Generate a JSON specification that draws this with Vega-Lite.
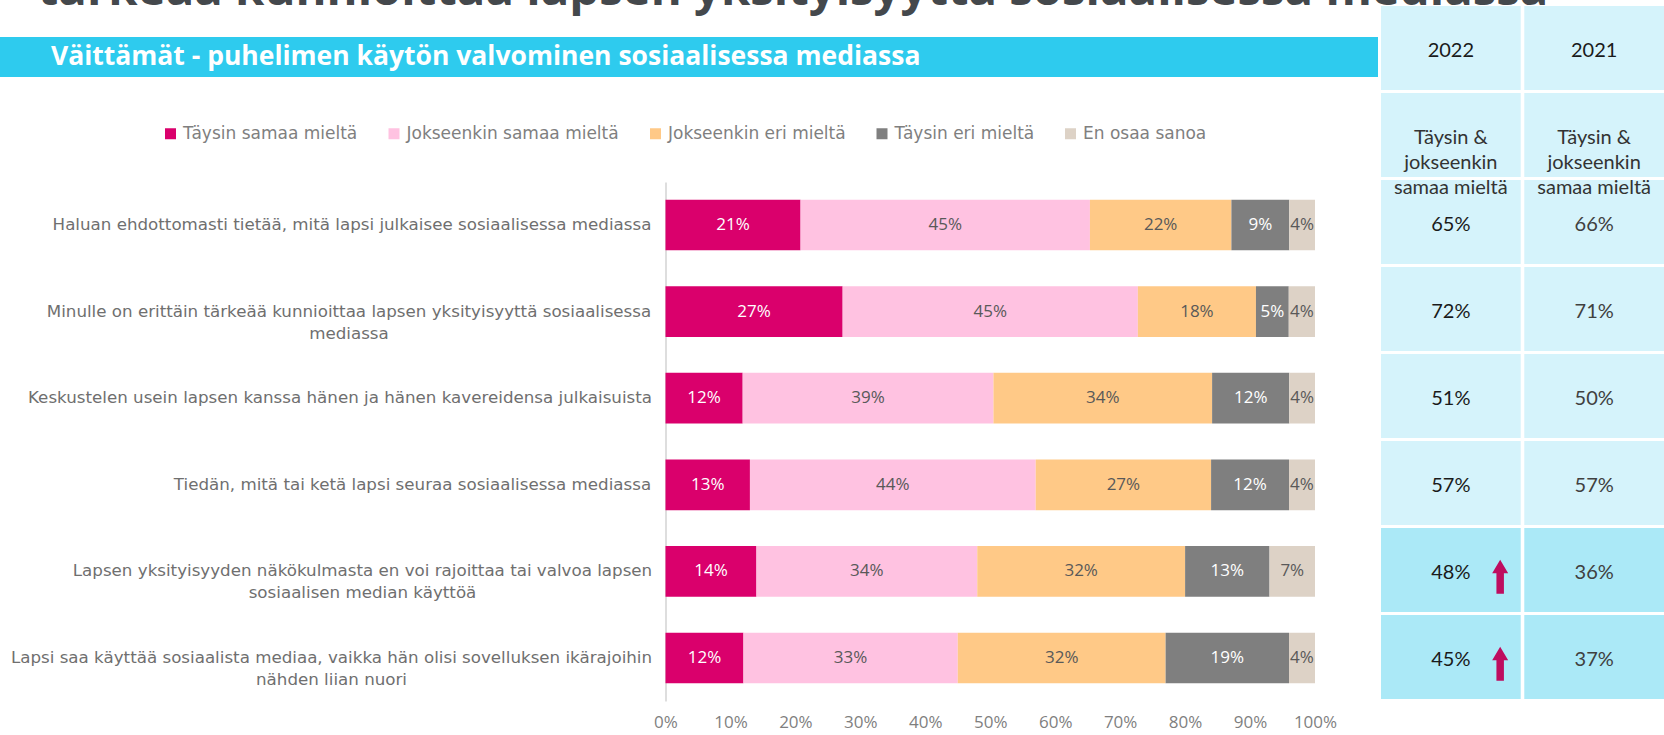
{
  "$schema": "https://vega.github.io/schema/vega-lite/v6.json",
  "padding": 0,
  "background": "white",
  "width": 1664,
  "height": 701,
  "config": {"view": {"stroke": null}, "font": "Open Sans"},
  "datasets": {
    "header": [
      {"part": "title", "zone": "left", "text": "tärkeää kunnioittaa lapsen yksityisyyttä sosiaalisessa mediassa"},
      {"part": "banner", "zone": "left", "text": "Väittämät - puhelimen käytön valvominen sosiaalisessa mediassa"}
    ],
    "answers": [
      {"statement": "Haluan ehdottomasti tietää, mitä lapsi julkaisee sosiaalisessa mediassa", "response": "Täysin samaa mieltä", "ord": 1, "value": 0.21},
      {"statement": "Haluan ehdottomasti tietää, mitä lapsi julkaisee sosiaalisessa mediassa", "response": "Jokseenkin samaa mieltä", "ord": 2, "value": 0.45},
      {"statement": "Haluan ehdottomasti tietää, mitä lapsi julkaisee sosiaalisessa mediassa", "response": "Jokseenkin eri mieltä", "ord": 3, "value": 0.22},
      {"statement": "Haluan ehdottomasti tietää, mitä lapsi julkaisee sosiaalisessa mediassa", "response": "Täysin eri mieltä", "ord": 4, "value": 0.09},
      {"statement": "Haluan ehdottomasti tietää, mitä lapsi julkaisee sosiaalisessa mediassa", "response": "En osaa sanoa", "ord": 5, "value": 0.04},
      {"statement": "Minulle on erittäin tärkeää kunnioittaa lapsen yksityisyyttä sosiaalisessa\nmediassa", "response": "Täysin samaa mieltä", "ord": 1, "value": 0.27},
      {"statement": "Minulle on erittäin tärkeää kunnioittaa lapsen yksityisyyttä sosiaalisessa\nmediassa", "response": "Jokseenkin samaa mieltä", "ord": 2, "value": 0.45},
      {"statement": "Minulle on erittäin tärkeää kunnioittaa lapsen yksityisyyttä sosiaalisessa\nmediassa", "response": "Jokseenkin eri mieltä", "ord": 3, "value": 0.18},
      {"statement": "Minulle on erittäin tärkeää kunnioittaa lapsen yksityisyyttä sosiaalisessa\nmediassa", "response": "Täysin eri mieltä", "ord": 4, "value": 0.05},
      {"statement": "Minulle on erittäin tärkeää kunnioittaa lapsen yksityisyyttä sosiaalisessa\nmediassa", "response": "En osaa sanoa", "ord": 5, "value": 0.04},
      {"statement": "Keskustelen usein lapsen kanssa hänen ja hänen kavereidensa julkaisuista", "response": "Täysin samaa mieltä", "ord": 1, "value": 0.12},
      {"statement": "Keskustelen usein lapsen kanssa hänen ja hänen kavereidensa julkaisuista", "response": "Jokseenkin samaa mieltä", "ord": 2, "value": 0.39},
      {"statement": "Keskustelen usein lapsen kanssa hänen ja hänen kavereidensa julkaisuista", "response": "Jokseenkin eri mieltä", "ord": 3, "value": 0.34},
      {"statement": "Keskustelen usein lapsen kanssa hänen ja hänen kavereidensa julkaisuista", "response": "Täysin eri mieltä", "ord": 4, "value": 0.12},
      {"statement": "Keskustelen usein lapsen kanssa hänen ja hänen kavereidensa julkaisuista", "response": "En osaa sanoa", "ord": 5, "value": 0.04},
      {"statement": "Tiedän, mitä tai ketä lapsi seuraa sosiaalisessa mediassa", "response": "Täysin samaa mieltä", "ord": 1, "value": 0.13},
      {"statement": "Tiedän, mitä tai ketä lapsi seuraa sosiaalisessa mediassa", "response": "Jokseenkin samaa mieltä", "ord": 2, "value": 0.44},
      {"statement": "Tiedän, mitä tai ketä lapsi seuraa sosiaalisessa mediassa", "response": "Jokseenkin eri mieltä", "ord": 3, "value": 0.27},
      {"statement": "Tiedän, mitä tai ketä lapsi seuraa sosiaalisessa mediassa", "response": "Täysin eri mieltä", "ord": 4, "value": 0.12},
      {"statement": "Tiedän, mitä tai ketä lapsi seuraa sosiaalisessa mediassa", "response": "En osaa sanoa", "ord": 5, "value": 0.04},
      {"statement": "Lapsen yksityisyyden näkökulmasta en voi rajoittaa tai valvoa lapsen\nsosiaalisen median käyttöä", "response": "Täysin samaa mieltä", "ord": 1, "value": 0.14},
      {"statement": "Lapsen yksityisyyden näkökulmasta en voi rajoittaa tai valvoa lapsen\nsosiaalisen median käyttöä", "response": "Jokseenkin samaa mieltä", "ord": 2, "value": 0.34},
      {"statement": "Lapsen yksityisyyden näkökulmasta en voi rajoittaa tai valvoa lapsen\nsosiaalisen median käyttöä", "response": "Jokseenkin eri mieltä", "ord": 3, "value": 0.32},
      {"statement": "Lapsen yksityisyyden näkökulmasta en voi rajoittaa tai valvoa lapsen\nsosiaalisen median käyttöä", "response": "Täysin eri mieltä", "ord": 4, "value": 0.13},
      {"statement": "Lapsen yksityisyyden näkökulmasta en voi rajoittaa tai valvoa lapsen\nsosiaalisen median käyttöä", "response": "En osaa sanoa", "ord": 5, "value": 0.07},
      {"statement": "Lapsi saa käyttää sosiaalista mediaa, vaikka hän olisi sovelluksen ikärajoihin\nnähden liian nuori", "response": "Täysin samaa mieltä", "ord": 1, "value": 0.12},
      {"statement": "Lapsi saa käyttää sosiaalista mediaa, vaikka hän olisi sovelluksen ikärajoihin\nnähden liian nuori", "response": "Jokseenkin samaa mieltä", "ord": 2, "value": 0.33},
      {"statement": "Lapsi saa käyttää sosiaalista mediaa, vaikka hän olisi sovelluksen ikärajoihin\nnähden liian nuori", "response": "Jokseenkin eri mieltä", "ord": 3, "value": 0.32},
      {"statement": "Lapsi saa käyttää sosiaalista mediaa, vaikka hän olisi sovelluksen ikärajoihin\nnähden liian nuori", "response": "Täysin eri mieltä", "ord": 4, "value": 0.19},
      {"statement": "Lapsi saa käyttää sosiaalista mediaa, vaikka hän olisi sovelluksen ikärajoihin\nnähden liian nuori", "response": "En osaa sanoa", "ord": 5, "value": 0.04}
    ],
    "table": [
      {"row": "head", "year": "2022"},
      {"row": "head", "year": "2021"},
      {"row": "sub", "year": "2022", "label": "Täysin &\njokseenkin\nsamaa mieltä"},
      {"row": "sub", "year": "2021", "label": "Täysin &\njokseenkin\nsamaa mieltä"},
      {"row": "Haluan ehdottomasti tietää, mitä lapsi julkaisee sosiaalisessa mediassa", "year": "2022", "pct": 0.65, "hl": false, "up": false},
      {"row": "Haluan ehdottomasti tietää, mitä lapsi julkaisee sosiaalisessa mediassa", "year": "2021", "pct": 0.66, "hl": false, "up": false},
      {"row": "Minulle on erittäin tärkeää kunnioittaa lapsen yksityisyyttä sosiaalisessa\nmediassa", "year": "2022", "pct": 0.72, "hl": false, "up": false},
      {"row": "Minulle on erittäin tärkeää kunnioittaa lapsen yksityisyyttä sosiaalisessa\nmediassa", "year": "2021", "pct": 0.71, "hl": false, "up": false},
      {"row": "Keskustelen usein lapsen kanssa hänen ja hänen kavereidensa julkaisuista", "year": "2022", "pct": 0.51, "hl": false, "up": false},
      {"row": "Keskustelen usein lapsen kanssa hänen ja hänen kavereidensa julkaisuista", "year": "2021", "pct": 0.50, "hl": false, "up": false},
      {"row": "Tiedän, mitä tai ketä lapsi seuraa sosiaalisessa mediassa", "year": "2022", "pct": 0.57, "hl": false, "up": false},
      {"row": "Tiedän, mitä tai ketä lapsi seuraa sosiaalisessa mediassa", "year": "2021", "pct": 0.57, "hl": false, "up": false},
      {"row": "Lapsen yksityisyyden näkökulmasta en voi rajoittaa tai valvoa lapsen\nsosiaalisen median käyttöä", "year": "2022", "pct": 0.48, "hl": true, "up": true},
      {"row": "Lapsen yksityisyyden näkökulmasta en voi rajoittaa tai valvoa lapsen\nsosiaalisen median käyttöä", "year": "2021", "pct": 0.36, "hl": true, "up": false},
      {"row": "Lapsi saa käyttää sosiaalista mediaa, vaikka hän olisi sovelluksen ikärajoihin\nnähden liian nuori", "year": "2022", "pct": 0.45, "hl": true, "up": true},
      {"row": "Lapsi saa käyttää sosiaalista mediaa, vaikka hän olisi sovelluksen ikärajoihin\nnähden liian nuori", "year": "2021", "pct": 0.37, "hl": true, "up": false}
    ]
  },
  "layer": [
    {
      "data": {"name": "header"},
      "encoding": {
        "y": {"field": "part", "type": "nominal", "axis": null,
              "scale": {"type": "band", "domain": ["title", "banner"], "range": [-35, 77], "paddingInner": 0.4444, "paddingOuter": 0}},
        "x": {"field": "zone", "type": "nominal", "axis": null,
              "scale": {"type": "band", "domain": ["left"], "range": [0, 1378], "paddingInner": 0, "paddingOuter": 0}}
      },
      "layer": [
        {
          "transform": [{"filter": "datum.part === 'title'"}],
          "mark": {"type": "text", "clip": true, "align": "center", "baseline": "alphabetic", "font": "Open Sans", "fontWeight": "bold", "fontSize": 47.3, "color": "#44484C"},
          "encoding": {
            "x": {"field": "zone", "type": "nominal", "bandPosition": 0.5755},
            "y": {"field": "part", "type": "nominal", "bandPosition": 1},
            "text": {"field": "text"}
          }
        },
        {
          "transform": [{"filter": "datum.part === 'banner'"}],
          "mark": {"type": "rect", "color": "#2ECBEE"}
        },
        {
          "transform": [{"filter": "datum.part === 'banner'"}],
          "mark": {"type": "text", "align": "left", "baseline": "middle", "font": "Open Sans", "fontWeight": "bold", "fontSize": 26.5, "color": "white"},
          "encoding": {
            "x": {"field": "zone", "type": "nominal", "bandPosition": 0.037},
            "text": {"field": "text"}
          }
        }
      ]
    },
    {
      "data": {"name": "answers"},
      "encoding": {
        "y": {"field": "statement", "type": "nominal", "sort": null,
              "scale": {"type": "band", "range": [182, 701], "paddingInner": 0.415, "paddingOuter": 0.204},
              "axis": {"orient": "left", "title": null, "offset": -665.5, "ticks": false, "domainColor": "#D9D9D9", "domainWidth": 1.7,
                       "labelAlign": "center",
                       "labelPadding": {"condition": [
                         {"test": "datum.value === 'Haluan ehdottomasti tietää, mitä lapsi julkaisee sosiaalisessa mediassa'", "value": 314},
                         {"test": "datum.value === 'Minulle on erittäin tärkeää kunnioittaa lapsen yksityisyyttä sosiaalisessa\\nmediassa'", "value": 317},
                         {"test": "datum.value === 'Keskustelen usein lapsen kanssa hänen ja hänen kavereidensa julkaisuista'", "value": 326},
                         {"test": "datum.value === 'Tiedän, mitä tai ketä lapsi seuraa sosiaalisessa mediassa'", "value": 253.5},
                         {"test": "datum.value === 'Lapsen yksityisyyden näkökulmasta en voi rajoittaa tai valvoa lapsen\\nsosiaalisen median käyttöä'", "value": 303.5},
                         {"test": "datum.value === 'Lapsi saa käyttää sosiaalista mediaa, vaikka hän olisi sovelluksen ikärajoihin\\nnähden liian nuori'", "value": 334.5}
                       ], "value": 300},
                       "labelFont": "DejaVu Sans", "labelFontSize": 16.7, "labelColor": "#6F6F6F", "labelLimit": 800,
                       "labelLineHeight": 22, "labelExpr": "split(datum.label, '\\n')"}}
      },
      "layer": [
        {
          "mark": {"type": "bar"},
          "encoding": {
            "x": {"field": "value", "type": "quantitative", "stack": "normalize",
                  "scale": {"domain": [0, 1], "range": [665.5, 1315], "nice": false},
                  "axis": {"orient": "bottom", "title": null, "format": ".0%", "values": [0, 0.1, 0.2, 0.3, 0.4, 0.5, 0.6, 0.7, 0.8, 0.9, 1],
                           "domain": false, "ticks": false, "grid": false, "labelFlush": false, "labelPadding": 13, "labelFont": "Open Sans", "labelFontSize": 17, "labelColor": "#7F7F7F"}},
            "color": {"field": "response", "type": "nominal",
                      "scale": {"domain": ["Täysin samaa mieltä", "Jokseenkin samaa mieltä", "Jokseenkin eri mieltä", "Täysin eri mieltä", "En osaa sanoa"],
                                "range": ["#DA006C", "#FFC2E1", "#FFC987", "#7F7F7F", "#DDD2C6"]},
                      "legend": {"orient": "none", "legendX": 162, "legendY": 125, "direction": "horizontal", "title": null,
                                 "symbolType": "square", "symbolSize": 121, "symbolStrokeWidth": 0, "symbolOpacity": 1,
                                 "labelFont": "DejaVu Sans", "labelFontSize": 17, "labelColor": "#7F7F7F", "labelLimit": 400,
                                 "columnPadding": 27.5, "labelOffset": 4, "padding": 0}},
            "order": {"field": "ord", "type": "quantitative"}
          }
        },
        {
          "mark": {"type": "text", "font": "Open Sans", "fontSize": 17, "baseline": "middle"},
          "encoding": {
            "x": {"field": "value", "type": "quantitative", "stack": "normalize", "bandPosition": 0.5},
            "detail": {"field": "response"},
            "order": {"field": "ord", "type": "quantitative"},
            "text": {"field": "value", "type": "quantitative", "format": ".0%"},
            "color": {"condition": {"test": "datum.response === 'Täysin samaa mieltä' || datum.response === 'Täysin eri mieltä'", "value": "white"}, "value": "#595959"}
          }
        }
      ]
    },
    {
      "data": {"name": "table"},
      "encoding": {
        "y": {"field": "row", "type": "nominal", "axis": null,
              "scale": {"type": "band", "domain": ["head", "sub",
                "Haluan ehdottomasti tietää, mitä lapsi julkaisee sosiaalisessa mediassa",
                "Minulle on erittäin tärkeää kunnioittaa lapsen yksityisyyttä sosiaalisessa\nmediassa",
                "Keskustelen usein lapsen kanssa hänen ja hänen kavereidensa julkaisuista",
                "Tiedän, mitä tai ketä lapsi seuraa sosiaalisessa mediassa",
                "Lapsen yksityisyyden näkökulmasta en voi rajoittaa tai valvoa lapsen\nsosiaalisen median käyttöä",
                "Lapsi saa käyttää sosiaalista mediaa, vaikka hän olisi sovelluksen ikärajoihin\nnähden liian nuori"],
                "range": [6, 699], "paddingInner": 0.0345, "paddingOuter": 0}},
        "x": {"field": "year", "type": "nominal", "axis": null,
              "scale": {"type": "band", "domain": ["2022", "2021"], "range": [1381, 1664], "paddingInner": 0.025, "paddingOuter": 0}}
      },
      "layer": [
        {
          "mark": {"type": "rect"},
          "encoding": {"color": {"condition": {"test": "datum.hl === true", "value": "#ABE9F7"}, "value": "#D5F3FB"}}
        },
        {
          "transform": [{"filter": "datum.row === 'head'"}],
          "mark": {"type": "text", "font": "Lato", "fontSize": 20, "baseline": "middle", "color": "#1A1A1A"},
          "encoding": {"y": {"field": "row", "type": "nominal", "bandPosition": 0.54}, "text": {"field": "year"}}
        },
        {
          "transform": [{"filter": "datum.row === 'sub'"}],
          "mark": {"type": "text", "font": "Lato", "fontSize": 20, "baseline": "middle", "lineBreak": "\n", "lineHeight": 25, "color": "#333333"},
          "encoding": {"y": {"field": "row", "type": "nominal", "bandPosition": 0.53}, "text": {"field": "label"}}
        },
        {
          "transform": [{"filter": "isValid(datum.pct)"}],
          "mark": {"type": "text", "font": "Lato", "fontSize": 20, "baseline": "middle"},
          "encoding": {
            "y": {"field": "row", "type": "nominal", "bandPosition": 0.54},
            "text": {"field": "pct", "type": "quantitative", "format": ".0%"},
            "color": {"condition": {"test": "datum.year === '2022'", "value": "#1A1A1A"}, "value": "#404040"}
          }
        },
        {
          "transform": [{"filter": "datum.up === true"}],
          "mark": {"type": "point", "shape": "M -0.22 1 L 0.22 1 L 0.22 -0.2 L 0.47 -0.2 L 0 -1 L -0.47 -0.2 L -0.22 -0.2 Z", "size": 1156, "filled": true, "color": "#BE0D5F", "opacity": 1},
          "encoding": {
            "x": {"field": "year", "type": "nominal", "bandPosition": 0.853},
            "y": {"field": "row", "type": "nominal", "bandPosition": 0.58}
          }
        }
      ]
    }
  ],
  "resolve": {"scale": {"x": "independent", "y": "independent"}, "axis": {"x": "independent", "y": "independent"}}
}
